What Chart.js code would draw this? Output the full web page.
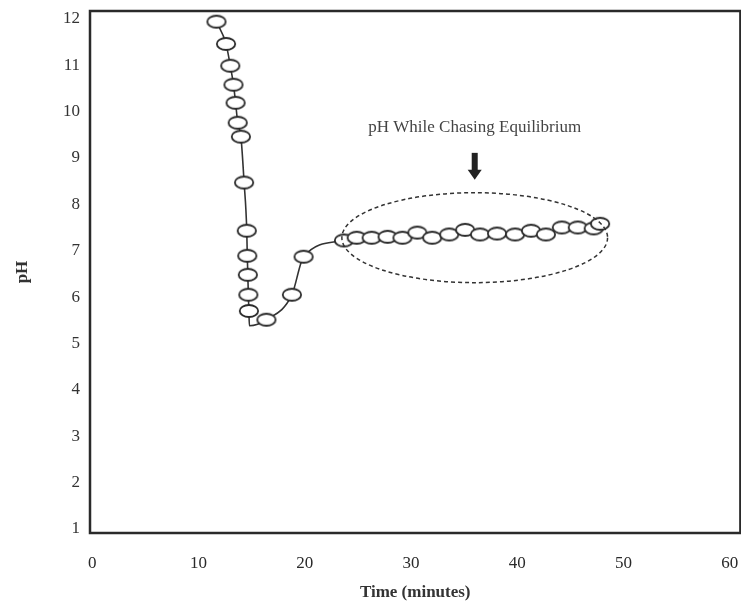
<!DOCTYPE html>
<html>
<head>
<meta charset="utf-8">
<script src="https://cdn.jsdelivr.net/npm/chart.js@4/dist/chart.umd.min.js"></script>
<style>
  html, body { margin: 0; padding: 0; background: #fff; overflow: hidden; }
  #grafico { display: block; }
</style>
</head>
<body>
<canvas id="grafico" width="749" height="607"></canvas>
<script>
// datos
const tiempos = [11.7, 12.6, 13.0, 13.3, 13.5, 13.7, 14.0, 14.3, 14.55, 14.6, 14.65, 14.7, 14.75, 14.8,
  16.4, 18.8, 19.9, 23.7, 24.9, 26.3, 27.8, 29.2, 30.6, 32.0, 33.6, 35.1, 36.5, 38.1, 39.8,
  41.3, 42.7, 44.2, 45.7, 47.2, 47.8];
const valoresPH = [11.94, 11.46, 10.99, 10.58, 10.19, 9.76, 9.46, 8.47, 7.43, 6.89, 6.48, 6.05, 5.70, 5.38,
  5.51, 6.05, 6.87, 7.22, 7.28, 7.28, 7.30, 7.28, 7.39, 7.28, 7.35, 7.45, 7.35, 7.37, 7.35,
  7.43, 7.35, 7.50, 7.50, 7.48, 7.58];
const sinMarcador = [13]; // esquina de la curva sin ovalo
const ticksX = [0, 10, 20, 30, 40, 50, 60];
const ticksY = [1, 2, 3, 4, 5, 6, 7, 8, 9, 10, 11, 12];

const etiqueta = 'pH While Chasing Equilibrium';
const elipse = { x: 36.0, y: 7.28, rx: 12.5, ry: 0.97 };
const flecha = { x: 36.0, y1: 9.11, y2: 8.53 };
const textoPos = { x: 36.0, y: 9.65 };

const puntos = tiempos.map((t, i) => ({ x: t, y: valoresPH[i] }));

// ovalo para los marcadores
const ovalo = document.createElement('canvas');
ovalo.width = 22; ovalo.height = 16;
const oc = ovalo.getContext('2d');
oc.beginPath();
oc.ellipse(11, 8, 9.2, 6, 0, 0, Math.PI * 2);
oc.fillStyle = '#fff';
oc.fill();
oc.lineWidth = 1.8;
oc.strokeStyle = '#2a2a2a';
oc.stroke();

const serif = '"Liberation Serif", "DejaVu Serif", serif';

const marco = {
  id: 'marco',
  afterDraw(chart) {
    const { ctx, chartArea: a, scales } = chart;
    ctx.save();
    ctx.strokeStyle = '#2a2a2a';
    ctx.lineWidth = 2.5;
    ctx.strokeRect(a.left, a.top, a.right - a.left, a.bottom - a.top);

    // elipse punteada
    const cx = scales.x.getPixelForValue(elipse.x);
    const cy = scales.y.getPixelForValue(elipse.y);
    const rx = scales.x.getPixelForValue(elipse.x + elipse.rx) - cx;
    const ry = cy - scales.y.getPixelForValue(elipse.y + elipse.ry);
    ctx.beginPath();
    ctx.setLineDash([4, 3]);
    ctx.lineWidth = 1.5;
    ctx.strokeStyle = '#333';
    ctx.ellipse(cx, cy, rx, ry, 0, 0, Math.PI * 2);
    ctx.stroke();
    ctx.setLineDash([]);

    // flecha
    const fx = scales.x.getPixelForValue(flecha.x);
    const fy1 = scales.y.getPixelForValue(flecha.y1);
    const fy2 = scales.y.getPixelForValue(flecha.y2);
    ctx.fillStyle = '#222';
    ctx.fillRect(fx - 3, fy1, 6, fy2 - fy1 - 9);
    ctx.beginPath();
    ctx.moveTo(fx - 7, fy2 - 10);
    ctx.lineTo(fx + 7, fy2 - 10);
    ctx.lineTo(fx, fy2);
    ctx.closePath();
    ctx.fill();

    // texto
    ctx.font = '17px ' + serif;
    ctx.fillStyle = '#444';
    ctx.textAlign = 'center';
    ctx.textBaseline = 'middle';
    ctx.fillText(etiqueta, scales.x.getPixelForValue(textoPos.x), scales.y.getPixelForValue(textoPos.y));
    ctx.restore();
  }
};

new Chart(document.getElementById('grafico'), {
  type: 'scatter',
  data: {
    datasets: [{
      label: 'pH',
      data: puntos,
      showLine: true,
      borderColor: '#333',
      borderWidth: 1.6,
      cubicInterpolationMode: 'monotone',
      pointStyle: ovalo,
      pointRadius: ctx => sinMarcador.includes(ctx.dataIndex) ? 0 : 7,
      pointHoverRadius: 7
    }]
  },
  options: {
    responsive: false,
    animation: false,
    layout: { padding: { top: 11, right: 0, left: 8, bottom: 0 } },
    plugins: {
      legend: { display: false },
      tooltip: { enabled: false }
    },
    scales: {
      x: {
        type: 'linear',
        min: -0.2,
        max: 61,
        afterBuildTicks: s => { s.ticks = ticksX.map(v => ({ value: v })); },
        afterFit: s => { s.height = 74; s.paddingLeft = 0; s.paddingRight = 0; },
        grid: {
          display: true,
          drawOnChartArea: false,
          drawTicks: true,
          tickLength: 17,
          color: 'rgba(0,0,0,0)'
        },
        border: { display: false },
        ticks: {
          padding: 3,
          color: '#2a2a2a',
          font: { family: serif, size: 17 }
        },
        title: {
          display: true,
          text: 'Time (minutes)',
          color: '#333',
          font: { family: serif, size: 17, weight: 'bold' },
          padding: { top: 10 }
        }
      },
      y: {
        min: 0.91,
        max: 12.17,
        afterBuildTicks: s => { s.ticks = ticksY.map(v => ({ value: v })); },
        afterFit: s => { s.width = 82; s.paddingTop = 0; s.paddingBottom = 0; },
        grid: { display: false, drawTicks: false },
        border: { display: false },
        ticks: {
          padding: 10,
          color: '#333',
          font: { family: serif, size: 17 }
        },
        title: {
          display: true,
          text: 'pH',
          color: '#333',
          font: { family: serif, size: 17, weight: 'bold' },
          padding: { bottom: 10 }
        }
      }
    }
  },
  plugins: [marco]
});
</script>
</body>
</html>
